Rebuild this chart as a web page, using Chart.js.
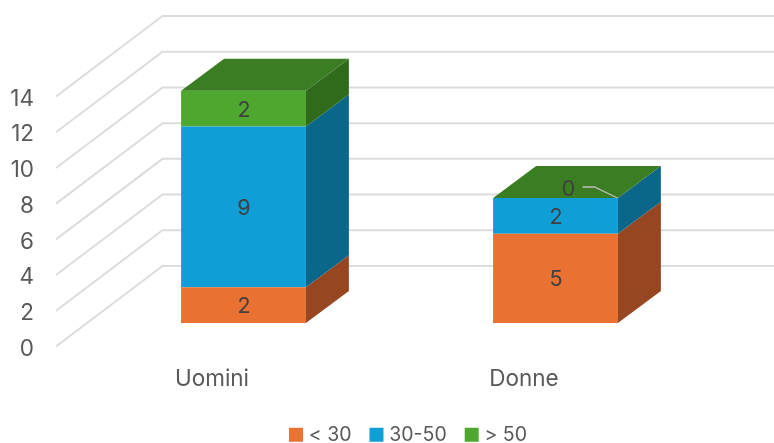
<!DOCTYPE html>
<html>
<head>
<meta charset="utf-8">
<title>Chart</title>
<script src="https://cdn.jsdelivr.net/npm/chart.js@4"></script>
<style>
  html, body { margin: 0; padding: 0; background: #fff; }
  canvas { display: block; }
</style>
</head>
<body>
<canvas id="chart" width="774" height="443"></canvas>
<script>
/* data */
const categories = ["Uomini", "Donne"];
const under30 = [2, 5];
const from30to50 = [9, 2];
const over50 = [2, 0];
const seriesNames = ["< 30", "30-50", "> 50"];
const tickMax = 14;
const tickStep = 2;

/* look */
const fontFamily = "Inter, sans-serif";
const fontSize = 22.5;
const valueFontSize = 21.5;
const legendFontSize = 19.5;
const textColor = "#595959";
const labelColor = "#404040";
const gridColor = "#DCDCDC";
const frontColors = ["#E97132", "#0F9ED5", "#4EA72E"];
const sideColors = ["#964620", "#0A6789", "#306B1B"];
const topColor = "#3B7D23";

// fake 3D depth of the columns
const depthX = 43;
const depthY = 32;

/* ---------- 3D walls: gridlines on side and back wall ---------- */
const wallPlugin = {
  id: "walls",
  beforeDatasetsDraw(chart) {
    const { ctx, scales } = chart;
    ctx.save();
    ctx.strokeStyle = gridColor;
    ctx.lineWidth = 2;
    scales.y.ticks.forEach((tick) => {
      const py = scales.y.getPixelForValue(tick.value);
      ctx.beginPath();
      ctx.moveTo(56, py + 23.5);
      ctx.lineTo(162.5, py - 57);
      ctx.lineTo(774, py - 57);
      ctx.stroke();
    });
    ctx.restore();
  }
};

/* ---------- 3D columns: side faces, top face, value labels ---------- */
const columnPlugin = {
  id: "columns",
  afterDatasetsDraw(chart) {
    const { ctx } = chart;
    const last = chart.data.datasets.length - 1;

    chart.data.datasets.forEach((dataset, d) => {
      chart.getDatasetMeta(d).data.forEach((bar) => {
        const right = bar.x + bar.width / 2;
        const left = bar.x - bar.width / 2;

        ctx.fillStyle = sideColors[d];
        ctx.beginPath();
        ctx.moveTo(right, bar.y);
        ctx.lineTo(right + depthX, bar.y - depthY);
        ctx.lineTo(right + depthX, bar.base - depthY);
        ctx.lineTo(right, bar.base);
        ctx.closePath();
        ctx.fill();

        if (d === last) {
          ctx.fillStyle = topColor;
          ctx.beginPath();
          ctx.moveTo(left, bar.y);
          ctx.lineTo(left + depthX, bar.y - depthY);
          ctx.lineTo(right + depthX, bar.y - depthY);
          ctx.lineTo(right, bar.y);
          ctx.closePath();
          ctx.fill();
        }
      });
    });

    ctx.font = `${valueFontSize}px ${fontFamily}`;
    ctx.textAlign = "center";
    ctx.textBaseline = "middle";

    chart.data.datasets.forEach((dataset, d) => {
      chart.getDatasetMeta(d).data.forEach((bar, i) => {
        const value = dataset.data[i];
        ctx.fillStyle = labelColor;
        if (value === 0) {
          // zero label sits on the top face with a leader line
          ctx.fillText(value, bar.x + 13, bar.y - 8);
          ctx.strokeStyle = "#BFBFBF";
          ctx.lineWidth = 1.3;
          ctx.beginPath();
          ctx.moveTo(bar.x + 27, bar.y - 11);
          ctx.lineTo(bar.x + 39, bar.y - 11);
          ctx.lineTo(bar.x + 62, bar.y + 0);
          ctx.stroke();
        } else {
          ctx.fillText(value, bar.x + 0.5, (bar.y + bar.base) / 2 + 1.5);
        }
      });
    });
  }
};

/* ---------- legend placement ---------- */
const legendPlugin = {
  id: "legendShift",
  afterLayout(chart) {
    chart.legend.left = 271;
    chart.legend.top = 403;
  }
};

function legendLabels(chart) {
  // small box + thick stroke gives the square with a tighter text gap
  return Chart.defaults.plugins.legend.labels.generateLabels(chart).map((item) => {
    item.strokeStyle = item.fillStyle;
    item.lineWidth = 8;
    return item;
  });
}

new Chart(document.getElementById("chart"), {
  type: "bar",
  data: {
    labels: categories,
    datasets: [
      { label: seriesNames[0], data: under30, backgroundColor: frontColors[0] },
      { label: seriesNames[1], data: from30to50, backgroundColor: frontColors[1] },
      { label: seriesNames[2], data: over50, backgroundColor: frontColors[2] }
    ]
  },
  plugins: [wallPlugin, columnPlugin, legendPlugin],
  options: {
    responsive: false,
    animation: false,
    categoryPercentage: 1,
    barPercentage: 0.4,
    layout: { padding: { top: 73, right: 62.5, left: 0, bottom: 0 } },
    scales: {
      x: {
        stacked: true,
        grid: { display: false, drawTicks: false },
        border: { display: false },
        ticks: {
          color: textColor,
          font: { family: fontFamily, size: fontSize },
          padding: 42.5,
          labelOffset: -31.5,
          maxRotation: 0
        },
        afterFit(scale) {
          scale.height = 443 - 323 - scale.chart.legend.height;
        }
      },
      y: {
        stacked: true,
        min: 0,
        max: tickMax,
        grid: { display: false, drawTicks: false },
        border: { display: false },
        ticks: {
          stepSize: tickStep,
          color: textColor,
          font: { family: fontFamily, size: fontSize },
          padding: 53.5,
          labelOffset: 26
        },
        afterFit(scale) {
          scale.width = 87.5;
        }
      }
    },
    plugins: {
      tooltip: { enabled: false },
      legend: {
        position: "bottom",
        align: "start",
        labels: {
          color: textColor,
          font: { family: fontFamily, size: legendFontSize },
          boxWidth: 6,
          boxHeight: 6,
          padding: 22,
          generateLabels: legendLabels
        }
      }
    }
  }
});
</script>
</body>
</html>
